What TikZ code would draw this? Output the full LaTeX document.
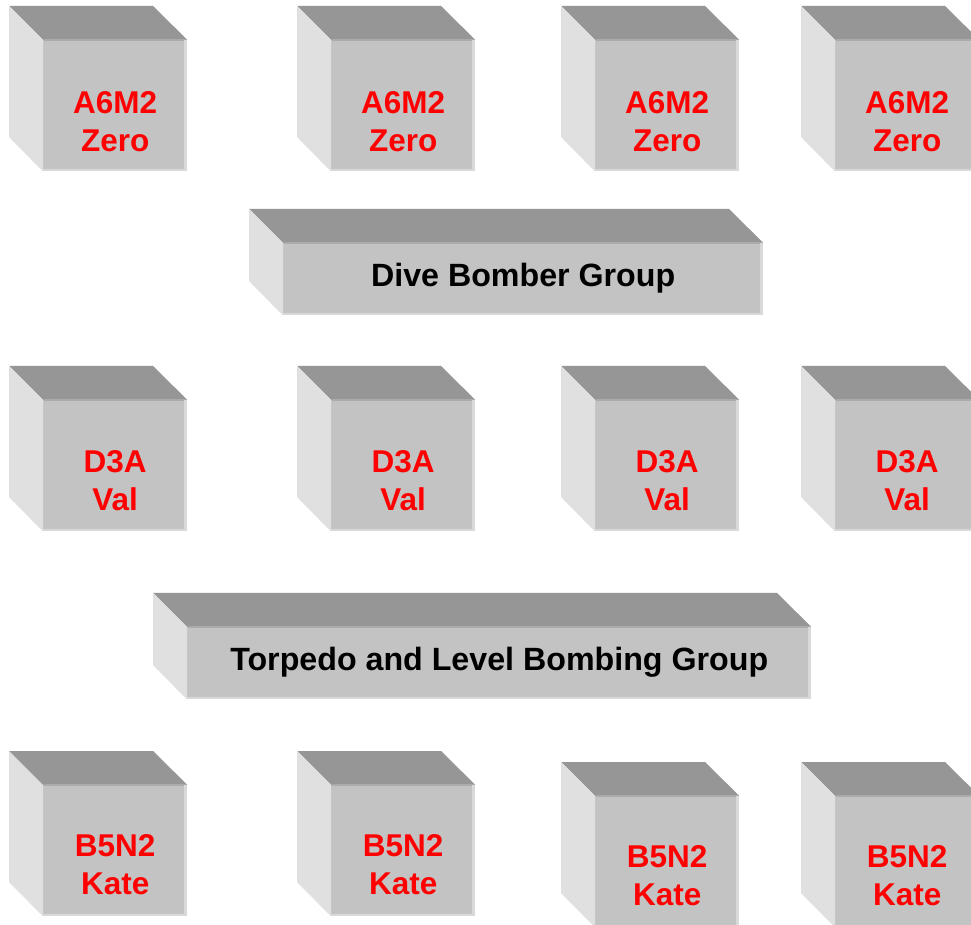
\documentclass[tikz,border=0pt]{standalone}
\usepackage{fontspec}
\setmainfont{Liberation Sans}
\definecolor{topface}{HTML}{969696}
\definecolor{leftface}{HTML}{E0E0E0}
\definecolor{frontface}{HTML}{C3C3C3}
\definecolor{edgelight}{HTML}{D9D9D9}
\definecolor{edgedark}{HTML}{ABABAB}
\tikzset{
  front/.style={fill=frontface, draw=none, inner sep=0pt, anchor=north west},
  redlabel/.style={text=red, font=\bfseries\fontsize{31.5}{38}\selectfont, align=center, inner sep=0pt},
  blacklabel/.style={text=black, font=\bfseries\fontsize{32.2}{38}\selectfont, inner sep=0pt},
}
% #1 name, #2 left x, #3 top y (pixels from top), #4 width, #5 height
\newcommand{\boxcube}[5]{%
  \node[front, minimum width=#4, minimum height=#5] (#1) at (#2,{924-#3}) {};
  \fill[topface] (#1.north west) -- ++(-34,34) -- ++(#4,0) -- (#1.north east) -- cycle;
  \fill[leftface] (#1.north west) -- ++(-34,34) -- ++(0,-#5) -- (#1.south west) -- cycle;
  \draw[edgedark, line width=1.2] ([xshift=0.6]#1.north west) -- ([xshift=-0.6]#1.north east);
  \draw[edgelight, line width=3] ([xshift=-1.5]#1.north east) -- ([xshift=-1.5]#1.south east);
  \draw[edgelight, line width=2] ([yshift=1]#1.south west) -- ([yshift=1]#1.south east);
}
\begin{document}
\begin{tikzpicture}[x=1pt,y=1pt]
\clip (0,0) rectangle (971,924);
\fill[white] (0,0) rectangle (971,924);
% row 1
\boxcube{z1}{43}{40}{144}{131}
\boxcube{z2}{331}{40}{144}{131}
\boxcube{z3}{595}{40}{144}{131}
\boxcube{z4}{835}{40}{144}{131}
\node[redlabel] (lz1) at ([yshift=-15.5]z1.center) {A6M2\\Zero};
\node[redlabel] (lz2) at ([yshift=-15.5]z2.center) {A6M2\\Zero};
\node[redlabel] (lz3) at ([yshift=-15.5]z3.center) {A6M2\\Zero};
\node[redlabel] (lz4) at ([yshift=-15.5]z4.center) {A6M2\\Zero};
% dive bomber group
\boxcube{dbg}{283}{243}{480}{72}
\node[blacklabel] (ldbg) at ([yshift=1]dbg.center) {Dive Bomber Group};
% row 2
\boxcube{v1}{43}{400}{144}{131}
\boxcube{v2}{331}{400}{144}{131}
\boxcube{v3}{595}{400}{144}{131}
\boxcube{v4}{835}{400}{144}{131}
\node[redlabel] (lv1) at ([yshift=-15]v1.center) {D3A\\Val};
\node[redlabel] (lv2) at ([yshift=-15]v2.center) {D3A\\Val};
\node[redlabel] (lv3) at ([yshift=-15]v3.center) {D3A\\Val};
\node[redlabel] (lv4) at ([yshift=-15]v4.center) {D3A\\Val};
% torpedo group
\boxcube{tlb}{187}{627}{624}{72}
\node[blacklabel] (ltlb) at ([yshift=1]tlb.center) {Torpedo and Level Bombing Group};
% row 3
\boxcube{k1}{43}{785}{144}{131}
\boxcube{k2}{331}{785}{144}{131}
\boxcube{k3}{595}{796}{144}{131}
\boxcube{k4}{835}{796}{144}{131}
\node[redlabel] (lk1) at ([yshift=-13.5]k1.center) {B5N2\\Kate};
\node[redlabel] (lk2) at ([yshift=-13.5]k2.center) {B5N2\\Kate};
\node[redlabel] (lk3) at ([yshift=-14]k3.center) {B5N2\\Kate};
\node[redlabel] (lk4) at ([yshift=-14]k4.center) {B5N2\\Kate};
\end{tikzpicture}
\end{document}
